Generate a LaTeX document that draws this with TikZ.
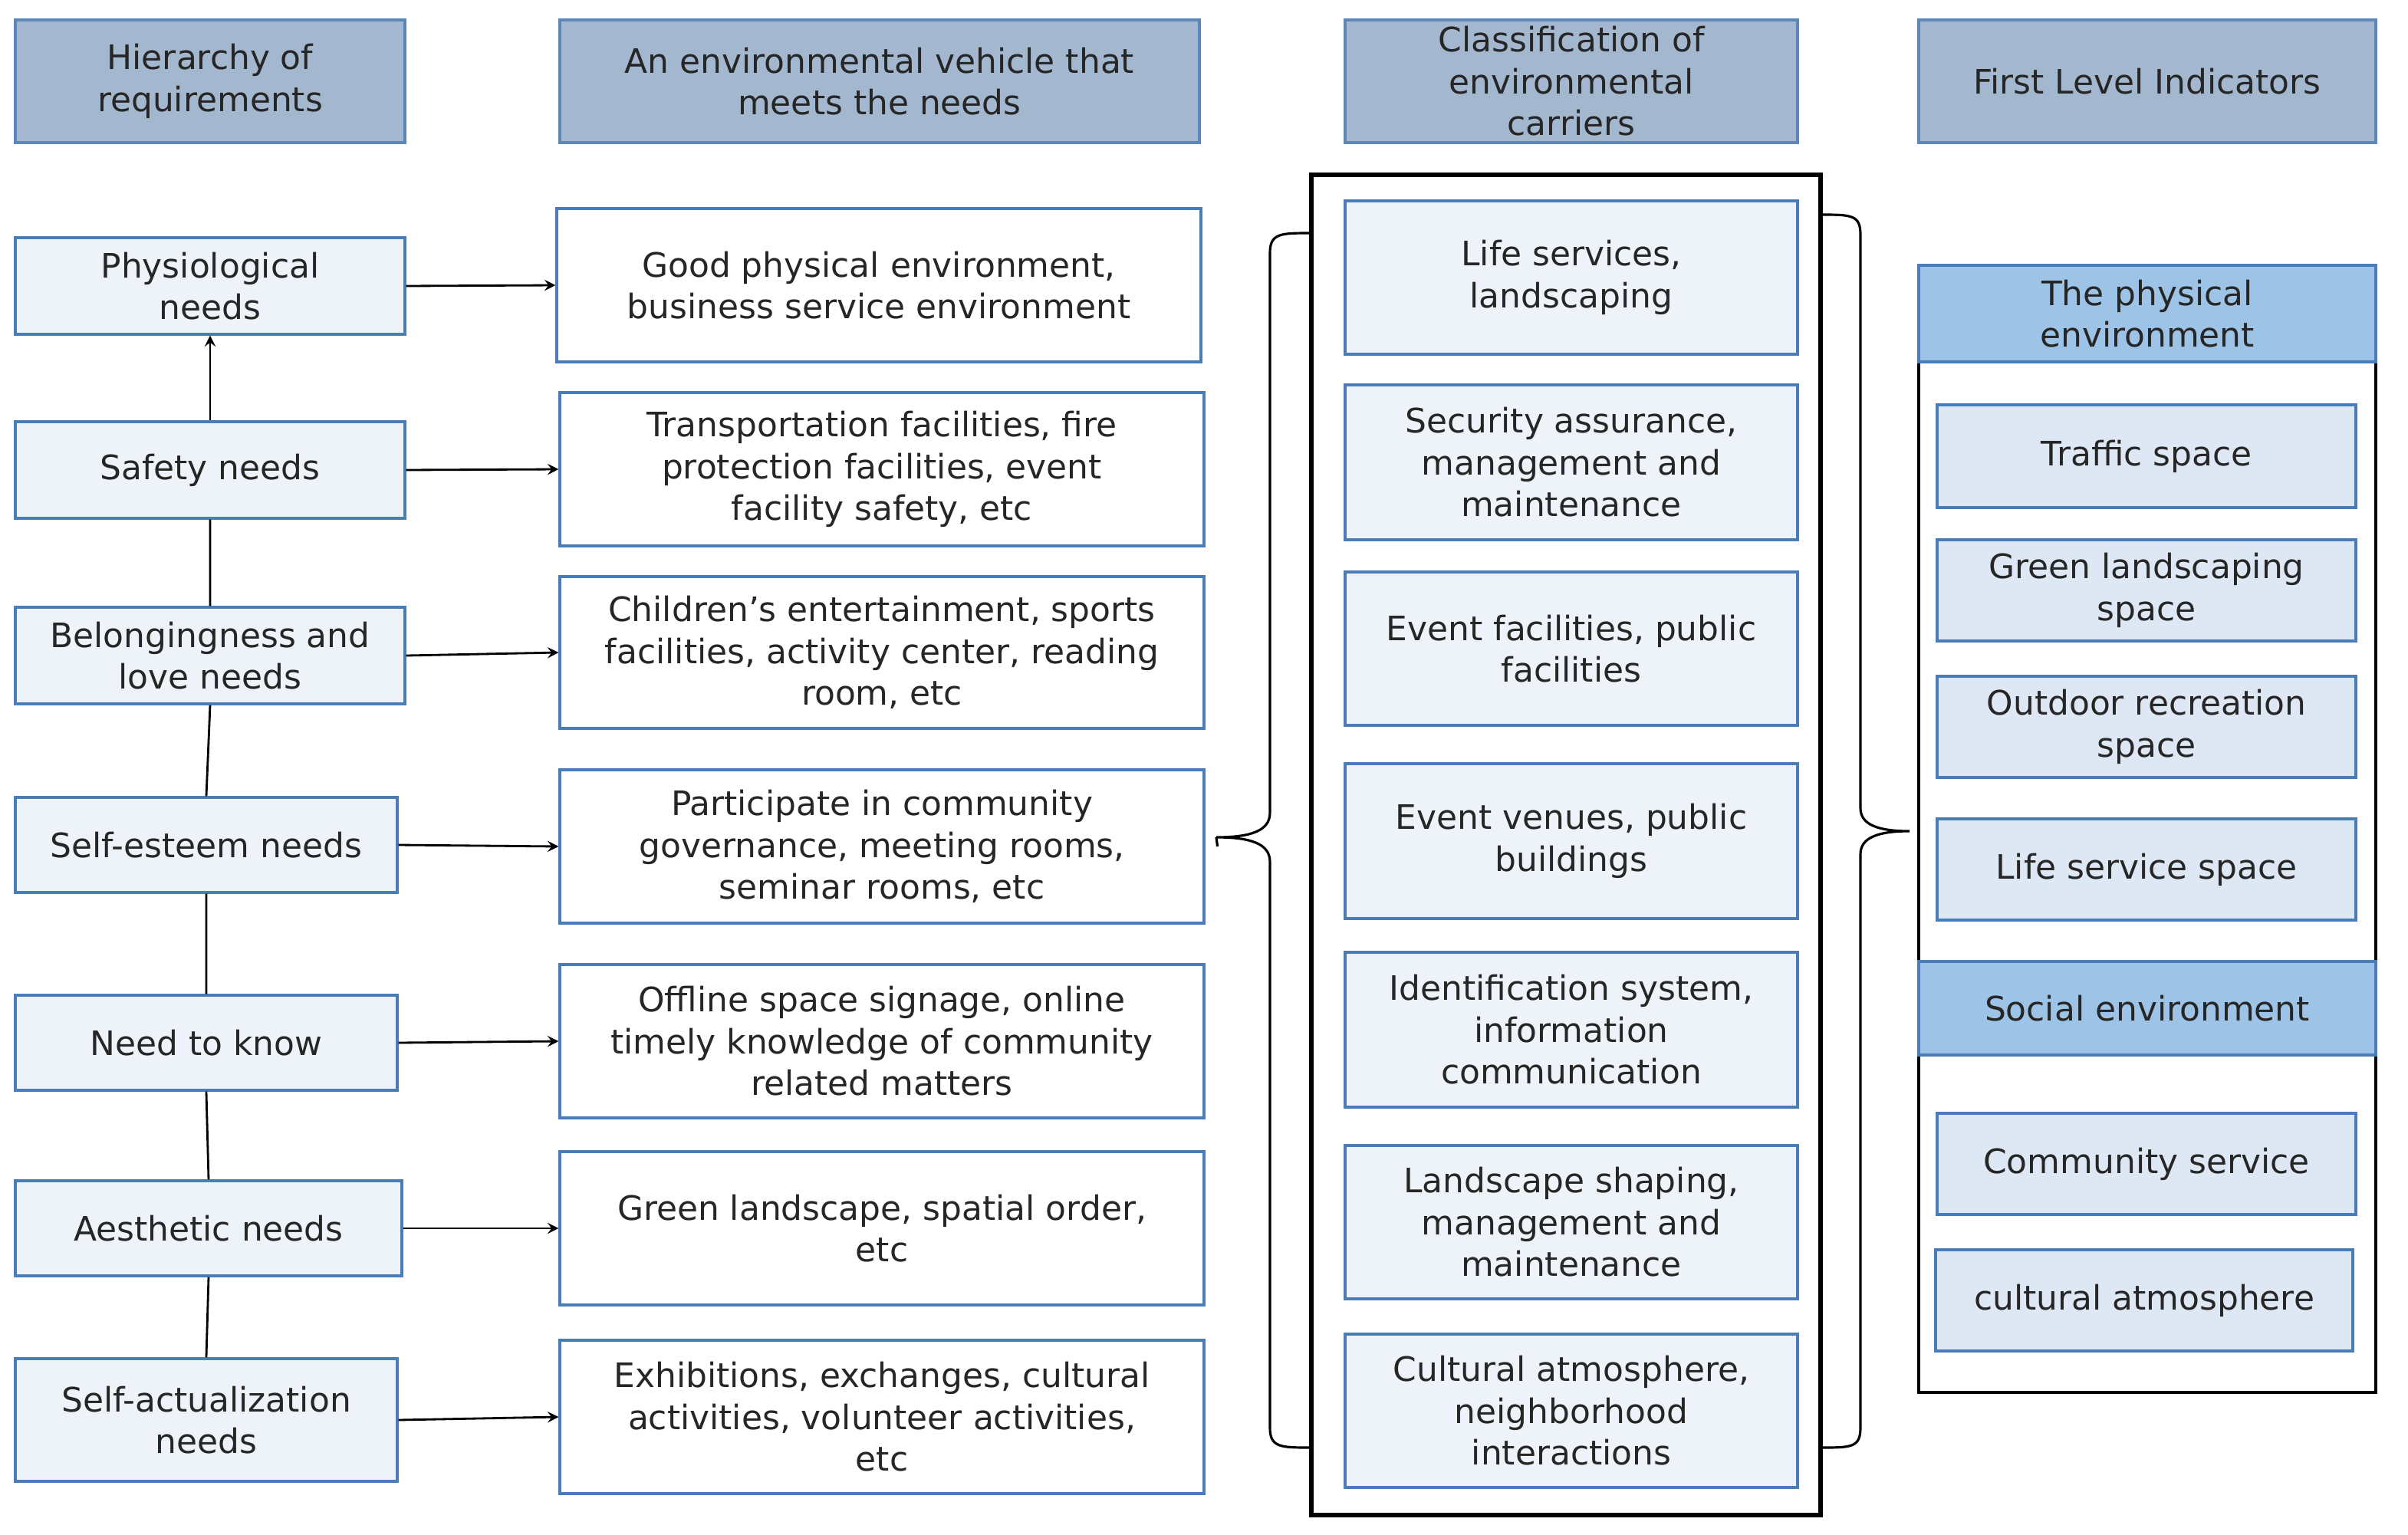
\documentclass[tikz,border=0pt]{standalone}
\usepackage{fontspec}
\setmainfont{DejaVu Sans}
\definecolor{hdr}{HTML}{A3B8CF}
\definecolor{hdrb}{HTML}{5B86B5}
\definecolor{lt}{HTML}{EEF3FA}
\definecolor{ltb}{HTML}{4A7DB8}
\definecolor{bl}{HTML}{9DC3E6}
\definecolor{md}{HTML}{DDE8F4}
\tikzset{
 base/.style={draw, line width=0.9pt, align=center, inner sep=0pt, font=\fontsize{12.5}{15.5}\selectfont, text=black!85},
 hdrbox/.style={base, fill=hdr, draw=hdrb},
 ltbox/.style={base, fill=lt, draw=ltb},
 wbox/.style={base, fill=white, draw=ltb},
 blbox/.style={base, fill=bl, draw=ltb},
 mdbox/.style={base, fill=md, draw=ltb},
 arr/.style={->, >=stealth, line width=0.8pt},
}
\newcommand\bx[7]{\node[#2, minimum width={(#5-#3)*0.02cm}, minimum height={(#6-#4)*0.02cm}] (#1) at ({(#3+#5)/2},{(#4+#6)/2}) {#7};}
\begin{document}
\begin{tikzpicture}[x=0.02cm,y=-0.02cm]
\path[use as bounding box] (0,0) rectangle (1570,1001);
% headers
\bx{h1}{hdrbox}{10}{13}{264}{93}{Hierarchy of\\requirements}
\bx{h2}{hdrbox}{365}{13}{782}{93}{An environmental vehicle that\\meets the needs}
\bx{h3}{hdrbox}{877}{13}{1172}{93}{Classification of\\environmental\\carriers}
\bx{h4}{hdrbox}{1251}{13}{1549}{93}{First Level Indicators}
% left
\bx{l1}{ltbox}{10}{155}{264}{218}{Physiological\\needs}
\bx{l2}{ltbox}{10}{275}{264}{338}{Safety needs}
\bx{l3}{ltbox}{10}{396}{264}{459}{Belongingness and\\love needs}
\bx{l4}{ltbox}{10}{520}{259}{582}{Self-esteem needs}
\bx{l5}{ltbox}{10}{649}{259}{711}{Need to know}
\bx{l6}{ltbox}{10}{770}{262}{832}{Aesthetic needs}
\bx{l7}{ltbox}{10}{886}{259}{966}{Self-actualization\\needs}
% middle
\bx{m1}{wbox}{363}{136}{783}{236}{Good physical environment,\\business service environment}
\bx{m2}{wbox}{365}{256}{785}{356}{Transportation facilities, fire\\protection facilities, event\\facility safety, etc}
\bx{m3}{wbox}{365}{376}{785}{475}{Children's entertainment, sports\\facilities, activity center, reading\\room, etc}
\bx{m4}{wbox}{365}{502}{785}{602}{Participate in community\\governance, meeting rooms,\\seminar rooms, etc}
\bx{m5}{wbox}{365}{629}{785}{729}{Offline space signage, online\\timely knowledge of community\\related matters}
\bx{m6}{wbox}{365}{751}{785}{851}{Green landscape, spatial order,\\etc}
\bx{m7}{wbox}{365}{874}{785}{974}{Exhibitions, exchanges, cultural\\activities, volunteer activities,\\etc}
\foreach \i in {1,...,7}{\draw[arr] (l\i.east) -- (m\i.west);}
\draw[line width=0.8pt] (l7.north) -- (l6.south) (l6.north) -- (l5.south) (l5.north) -- (l4.south) (l4.north) -- (l3.south) (l3.north) -- (l2.south);
\draw[arr] (l2.north) -- (l1.south);
% column 3
\node[draw, line width=1.8pt, minimum width={332*0.02cm}, minimum height={874*0.02cm}, inner sep=0pt] (big) at (1021,551) {};
\bx{c1}{ltbox}{877}{131}{1172}{231}{Life services,\\landscaping}
\bx{c2}{ltbox}{877}{251}{1172}{352}{Security assurance,\\management and\\maintenance}
\bx{c3}{ltbox}{877}{373}{1172}{473}{Event facilities, public\\facilities}
\bx{c4}{ltbox}{877}{498}{1172}{599}{Event venues, public\\buildings}
\bx{c5}{ltbox}{877}{621}{1172}{722}{Identification system,\\information\\communication}
\bx{c6}{ltbox}{877}{747}{1172}{847}{Landscape shaping,\\management and\\maintenance}
\bx{c7}{ltbox}{877}{870}{1172}{970}{Cultural atmosphere,\\neighborhood\\interactions}
% braces
\coordinate (lb) at (793,546);
\coordinate (rb) at (1245,542);
\draw[line width=0.9pt] (855,152) .. controls (835,152) and (828,152) .. (828,165) -- (828,530) .. controls (828,542) and (815,546) .. (lb) .. controls (815,546) and (828,550) .. (828,562) -- (828,931) .. controls (828,944) and (835,944) .. (855,944);
\draw[line width=0.9pt] (1187,140) .. controls (1207,140) and (1213,140) .. (1213,153) -- (1213,527) .. controls (1213,538) and (1225,542) .. (rb) .. controls (1225,542) and (1213,546) .. (1213,557) -- (1213,931) .. controls (1213,944) and (1207,944) .. (1187,944);
\draw[line width=0.9pt] (m4.east) ++(8,0) -- (lb);
% column 4
\node[draw, line width=1.2pt, minimum width={298*0.02cm}, minimum height={735*0.02cm}, inner sep=0pt] (rbig) at (1400,540.5) {};
\bx{p0}{blbox}{1251}{173}{1549}{236}{The physical\\environment}
\bx{p1}{mdbox}{1263}{264}{1536}{331}{Traffic space}
\bx{p2}{mdbox}{1263}{352}{1536}{418}{Green landscaping\\space}
\bx{p3}{mdbox}{1263}{441}{1536}{507}{Outdoor recreation\\space}
\bx{p4}{mdbox}{1263}{534}{1536}{600}{Life service space}
\bx{s0}{blbox}{1251}{627}{1549}{688}{Social environment}
\bx{s1}{mdbox}{1263}{726}{1536}{792}{Community service}
\bx{s2}{mdbox}{1262}{815}{1534}{881}{cultural atmosphere}
\end{tikzpicture}
\end{document}
